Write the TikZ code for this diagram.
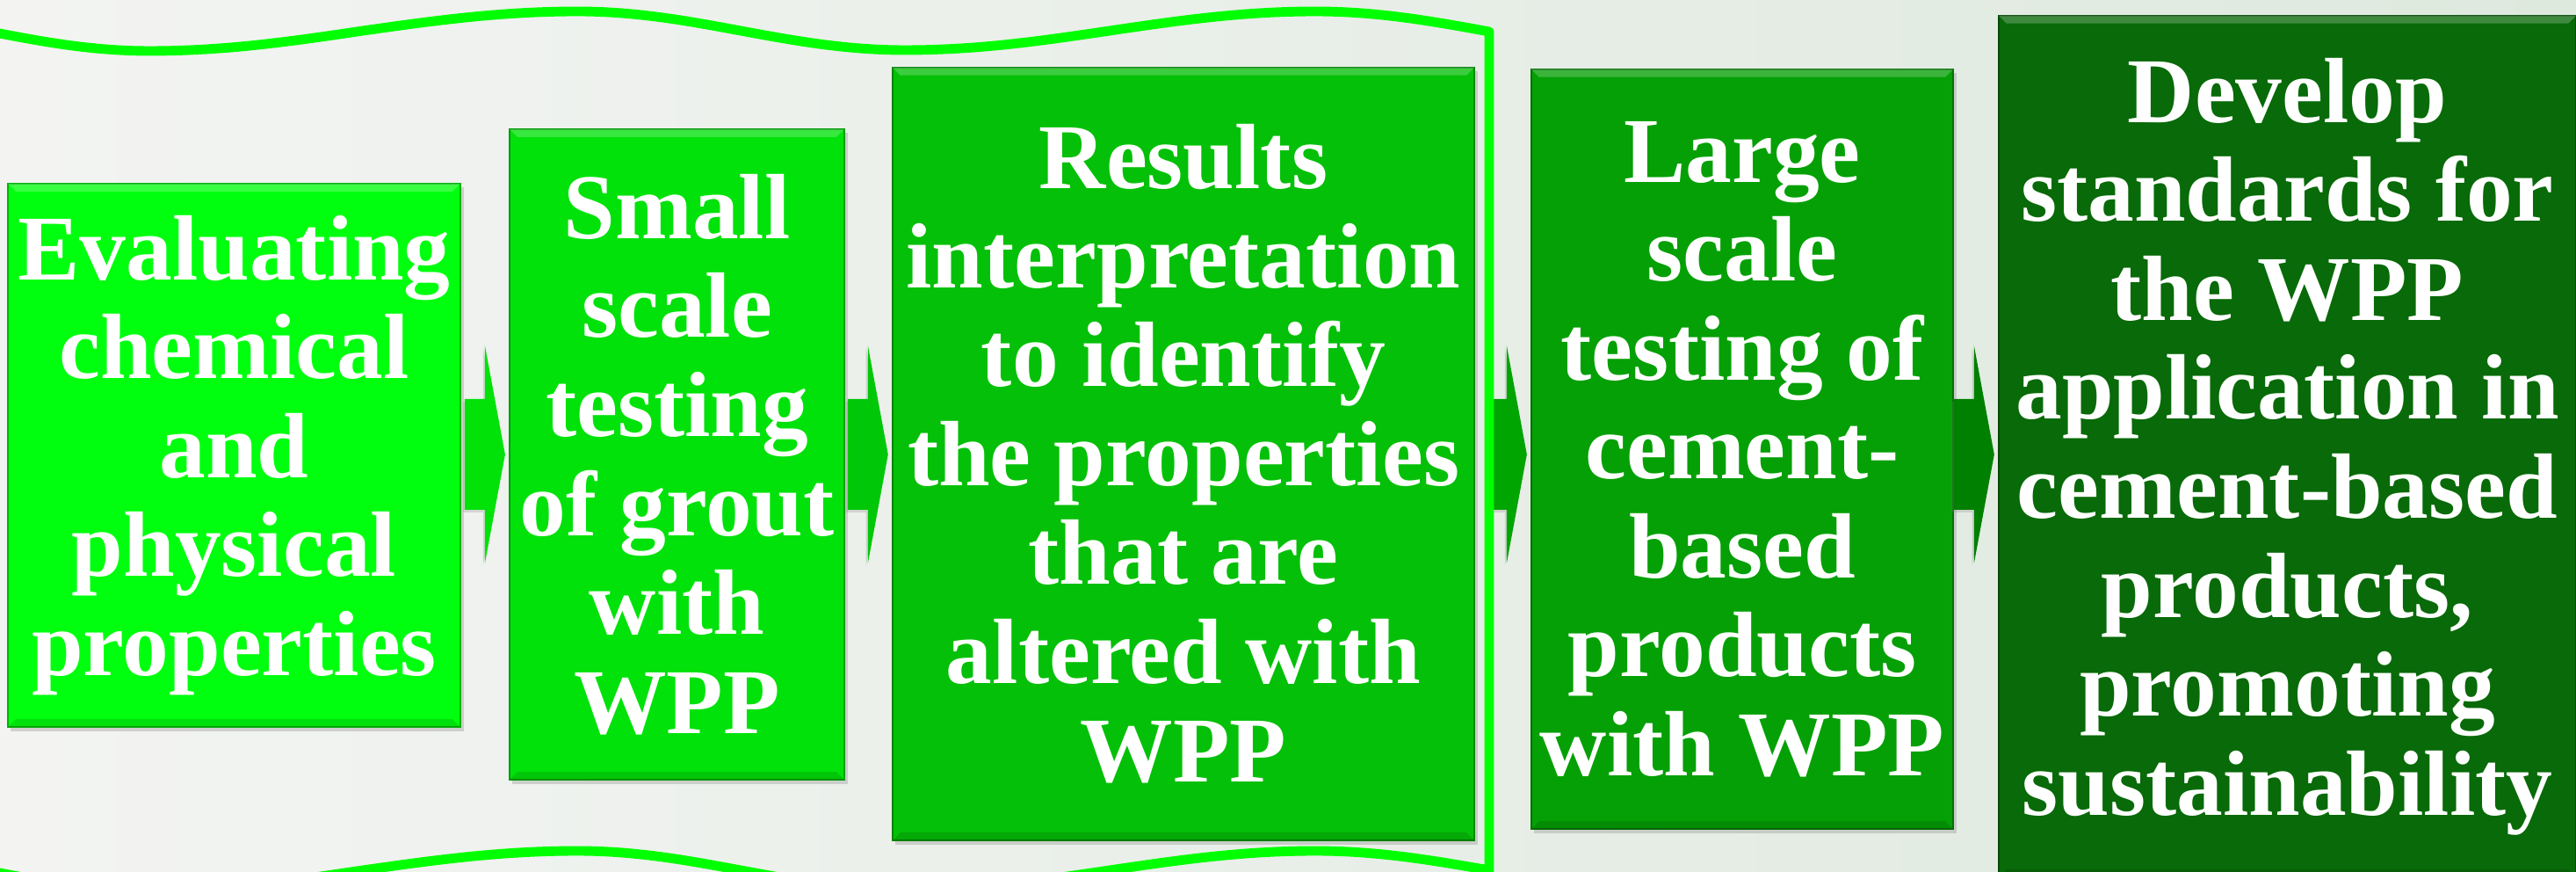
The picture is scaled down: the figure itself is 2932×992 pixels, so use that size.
\documentclass[tikz,border=0pt]{standalone}
\usepackage{fontspec}
\setmainfont{Liberation Serif}
\usetikzlibrary{calc,shadows}

\definecolor{bgL}{RGB}{243,244,242}
\definecolor{bgR}{RGB}{222,233,222}
\definecolor{rimGreen}{RGB}{0,255,0}
\definecolor{stepA}{RGB}{0,255,14}
\definecolor{stepB}{RGB}{0,226,10}
\definecolor{stepC}{RGB}{5,192,8}
\definecolor{stepD}{RGB}{5,160,6}
\definecolor{stepE}{RGB}{8,106,8}
\definecolor{arrA}{RGB}{0,226,8}
\definecolor{arrB}{RGB}{0,200,8}
\definecolor{arrC}{RGB}{0,165,2}
\definecolor{arrD}{RGB}{0,128,0}

\tikzset{
  stage/.style={rectangle, fill=#1, draw=#1!70!black, line width=0.5pt,
    inner sep=0pt, outer sep=0pt, text=white, align=center,
    font=\bfseries\fontsize{30}{32}\selectfont,
    drop shadow={shadow xshift=1pt, shadow yshift=-1.3pt, opacity=0.3}},
  flow/.style={fill=#1,
    drop shadow={shadow xshift=-0.6pt, shadow yshift=-0.8pt, opacity=0.25}}
}

% block arrow ending just before the west side of node #1
\newcommand{\flowarrow}[2]{%
  \fill[flow=#2] ($(#1.west |- 0,517)+(-5,0)$) -- ++(-23,-124) -- ++(0,61)
    -- ++(-23,0) -- ++(0,126) -- ++(23,0) -- ++(0,61) -- cycle;}

\begin{document}
\begin{tikzpicture}[x=0.01cm, y=-0.01cm]

  \shade[left color=bgL, right color=bgR] (0,0) rectangle (2932,992);
  \useasboundingbox (0,0) rectangle (2932,992);

  \node[stage=stepA, minimum width=5.15cm, minimum height=6.18cm] (b1) at (266.5,518)
    {Evaluating\\chemical\\and\\physical\\properties};
  \node[stage=stepB, minimum width=3.81cm, minimum height=7.40cm] (b2) at (770.5,517)
    {Small\\scale\\testing\\of grout\\with\\WPP};
  \node[stage=stepC, minimum width=6.62cm, minimum height=8.79cm] (b3) at (1347,516.5)
    {Results\\interpretation\\to identify\\the properties\\that are\\altered with\\WPP};
  \node[stage=stepD, minimum width=4.80cm, minimum height=8.64cm] (b4) at (1983,511)
    {Large\\scale\\testing of\\cement-\\based\\products\\with WPP};
  \node[stage=stepE, minimum width=6.57cm, minimum height=9.80cm] (b5) at (2603.5,508)
    {Develop\\standards for\\the WPP\\application in\\cement-based\\products,\\promoting\\sustainability};

  % bevel on the top and bottom edges
  \foreach \b in {b1,b2,b3,b4,b5} {
    \fill[white, opacity=0.22] (\b.north west) -- (\b.north east)
      -- ($(\b.north east)+(-9,9)$) -- ($(\b.north west)+(9,9)$) -- cycle;
    \fill[black, opacity=0.12] (\b.south west) -- (\b.south east)
      -- ($(\b.south east)+(-9,-9)$) -- ($(\b.south west)+(9,-9)$) -- cycle;
  }

  \flowarrow{b2}{arrA}
  \flowarrow{b3}{arrB}
  \flowarrow{b4}{arrC}
  \flowarrow{b5}{arrD}

  % wavy frame round the first three steps
  \draw[rimGreen, line width=3.1pt, line join=round]
    (-16,35) sin (170,58) cos (413,35) sin (657,13) cos (843,35)
    sin (1030,57) cos (1263,35) sin (1497,13) cos (1695,36)
    -- (1695,990) sin (1497,968) cos (1263,990) sin (1030,1012)
    cos (843,990) sin (657,968) cos (413,990) sin (170,1013) cos (-16,990);

\end{tikzpicture}
\end{document}
